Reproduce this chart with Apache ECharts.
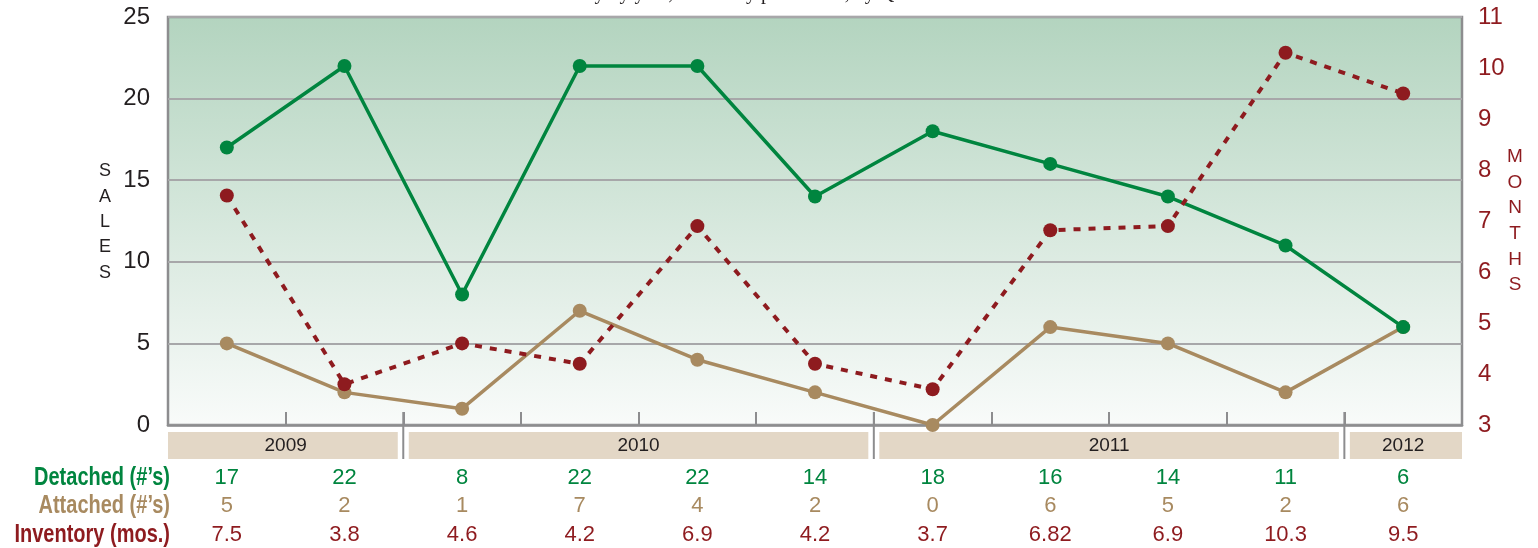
<!DOCTYPE html>
<html>
<head>
<meta charset="utf-8">
<script src="https://cdn.jsdelivr.net/npm/echarts@6/dist/echarts.min.js"></script>
<style>
html,body{margin:0;padding:0;background:#fff;}
#main{width:1538px;height:548px;}
</style>
</head>
<body>
<div id="main"></div>
<script>
// ---- data ----
const categories = ['2009 Q3','2009 Q4','2010 Q1','2010 Q2','2010 Q3','2010 Q4','2011 Q1','2011 Q2','2011 Q3','2011 Q4','2012 Q1'];
const detached = [17, 22, 8, 22, 22, 14, 18, 16, 14, 11, 6];
const attached = [5, 2, 1, 7, 4, 2, 0, 6, 5, 2, 6];
const inventory = [7.5, 3.8, 4.6, 4.2, 6.9, 4.2, 3.7, 6.82, 6.9, 10.3, 9.5];
const inventoryLabels = ['7.5','3.8','4.6','4.2','6.9','4.2','3.7','6.82','6.9','10.3','9.5'];
const yearLabels = ['2009', '2010', '2011', '2012'];
const yearSpans = [2, 4, 4, 1];
const rowLabels = ['Detached (#\u2019s)', 'Attached (#\u2019s)', 'Inventory (mos.)'];
const titleText = 'Activity by year, Inventory per Month, by Quarter';

const GREEN = '#00853f', TAN = '#a88a60', RED = '#8e1b1f', GRAY = '#8d8d8f';
const SANS = '"Liberation Sans", Arial, Helvetica, sans-serif';

const chart = echarts.init(document.getElementById('main'));
const option = {
  animation: false,
  grid: {
    left: 168, right: 76, top: 17, bottom: 123,
    show: true,
    borderColor: GRAY, borderWidth: 2.5,
    backgroundColor: new echarts.graphic.LinearGradient(0, 0, 0, 1, [
      {offset: 0, color: '#b3d4bf'},
      {offset: 1, color: '#f9fbfa'}
    ])
  },
  xAxis: {
    type: 'category', data: categories, boundaryGap: true,
    axisLine: {lineStyle: {color: GRAY, width: 2.5}},
    axisTick: {show: true, inside: true, length: 13, lineStyle: {color: GRAY, width: 2}},
    axisLabel: {show: false},
    splitLine: {show: false}
  },
  yAxis: [{
    type: 'value', min: 0, max: 25, interval: 5,
    axisLine: {show: false}, axisTick: {show: false},
    axisLabel: {color: '#231f20', fontSize: 24, fontFamily: SANS, margin: 18},
    splitLine: {lineStyle: {color: '#a7a7a9', width: 2}}
  }, {
    type: 'value', min: 3, max: 11, interval: 1, position: 'right',
    axisLine: {show: false}, axisTick: {show: false},
    axisLabel: {color: RED, fontSize: 24, fontFamily: SANS, margin: 16},
    splitLine: {show: false}
  }],
  series: [{
    name: 'Attached', type: 'line', data: attached, yAxisIndex: 0,
    symbol: 'circle', symbolSize: 14, z: 2,
    lineStyle: {color: TAN, width: 3.5}, itemStyle: {color: TAN}
  }, {
    name: 'Detached', type: 'line', data: detached, yAxisIndex: 0,
    symbol: 'circle', symbolSize: 14, z: 3,
    lineStyle: {color: GREEN, width: 3.5}, itemStyle: {color: GREEN}
  }, {
    name: 'Inventory', type: 'line', data: inventory, yAxisIndex: 1,
    symbol: 'circle', symbolSize: 14, z: 4,
    lineStyle: {color: RED, width: 4, type: [7, 8]}, itemStyle: {color: RED}
  }]
};
chart.setOption(option);

// ---- decorations positioned through the library's scales ----
function cx(i) { return chart.convertToPixel({xAxisIndex: 0}, i); }
const step = cx(1) - cx(0);
const left = cx(0) - step / 2;
const right = cx(categories.length - 1) + step / 2;
const yBase = chart.convertToPixel({yAxisIndex: 0}, 0);
const g = [];

// year bands and separators
let start = 0;
yearSpans.forEach((span, k) => {
  const x0 = left + start * step;
  const x1 = left + (start + span) * step;
  const padL = k === 0 ? 0 : 5.5;
  const padR = k === yearSpans.length - 1 ? 0 : 5.5;
  g.push({type: 'rect', shape: {x: x0 + padL, y: yBase + 7, width: x1 - x0 - padL - padR, height: 27},
    style: {fill: '#e3d7c6'}, z: 10});
  g.push({type: 'text', x: (x0 + x1) / 2, y: yBase + 20.5,
    style: {text: yearLabels[k], fill: '#231f20', font: '19px ' + SANS, align: 'center', verticalAlign: 'middle'}, z: 11});
  if (k > 0) {
    g.push({type: 'line', shape: {x1: x0, y1: yBase - 13, x2: x0, y2: yBase + 34},
      style: {stroke: GRAY, lineWidth: 2}, z: 11});
  }
  start += span;
});

// data table rows
const rows = [
  {vals: detached.map(String), color: GREEN, dy: 53},
  {vals: attached.map(String), color: TAN, dy: 81},
  {vals: inventoryLabels, color: RED, dy: 110}
];
rows.forEach((r, ri) => {
  g.push({type: 'text', x: left + 2, y: yBase + r.dy, scaleX: 0.8,
    style: {text: rowLabels[ri], x: 0, y: 0, fill: r.color, font: 'bold 25px ' + SANS, align: 'right', verticalAlign: 'middle'}, z: 11});
  r.vals.forEach((v, i) => {
    g.push({type: 'text', x: cx(i), y: yBase + r.dy,
      style: {text: v, fill: r.color, font: '22px ' + SANS, align: 'center', verticalAlign: 'middle'}, z: 11});
  });
});

// axis names (stacked letters)
g.push({type: 'text', x: 105, y: 222,
  style: {text: 'SALES'.split('').join('\n'), fill: '#231f20', font: '18px ' + SANS, lineHeight: 25.3, align: 'center', verticalAlign: 'middle'}, z: 11});
g.push({type: 'text', x: right + 53, y: 221,
  style: {text: 'MONTHS'.split('').join('\n'), fill: RED, font: '19px ' + SANS, lineHeight: 25.6, align: 'center', verticalAlign: 'middle'}, z: 11});

// title (mostly cut off at the top edge)
g.push({type: 'text', x: 740, y: 4,
  style: {text: titleText, fill: '#231f20', font: '20px "Liberation Serif", "Times New Roman", serif', align: 'center', verticalAlign: 'bottom'}, z: 11});

chart.setOption({graphic: g});
</script>
</body>
</html>
